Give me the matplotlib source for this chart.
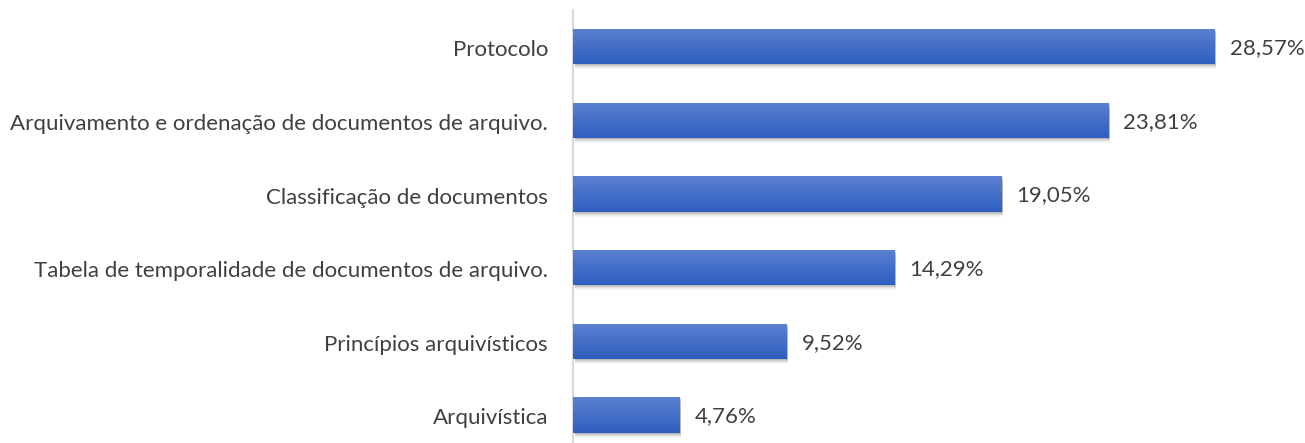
import matplotlib
matplotlib.use("Agg")
import matplotlib.pyplot as plt
import numpy as np
from matplotlib.colors import LinearSegmentedColormap
from matplotlib.patches import Rectangle
from matplotlib.transforms import ScaledTranslation

categories = ["Protocolo",
              "Arquivamento e ordenação de documentos de arquivo.",
              "Classificação de documentos",
              "Tabela de temporalidade de documentos de arquivo.",
              "Princípios arquivísticos",
              "Arquivística"]
values = [28.57, 23.81, 19.05, 14.29, 9.52, 4.76]
labels = ["28,57%", "23,81%", "19,05%", "14,29%", "9,52%", "4,76%"]

plt.rcParams['font.family'] = ['Lato', 'DejaVu Sans']
W, H = 1305, 443
fig = plt.figure(figsize=(W/100, H/100), dpi=100)
left, right, top, bottom = 573, 1305, 10, 443
ax = fig.add_axes([left/W, 1-bottom/H, (right-left)/W, (bottom-top)/H])

spacing = 73.6
ytop = -0.5
ybot = 5 + (443-415)/spacing
px = 22.47

y = np.arange(len(categories))
h = 0.48
cmap = LinearSegmentedColormap.from_list("g", ["#5b80d0", "#2e5fbf"])
grad = np.linspace(0, 1, 64).reshape(-1, 1)

for yi, v, lab in zip(y, values, labels):
    for k, a in [(1, 0.10), (2, 0.08), (3, 0.06), (4, 0.04), (5, 0.03)]:
        tr = ax.transData + ScaledTranslation(1.5/100, -k/100, fig.dpi_scale_trans)
        r = Rectangle((0, yi - h/2), v, h, facecolor="#000000", alpha=a,
                      edgecolor="none", transform=tr, zorder=1)
        ax.add_patch(r)
    bars = ax.barh(yi, v, height=h, color="none", edgecolor="none", zorder=2)
    im = ax.imshow(grad, cmap=cmap, aspect="auto",
                   extent=(0, v, yi + h/2, yi - h/2), zorder=3)
    im.set_clip_path(bars[0])
    ax.text(v + 15/px, yi + 0.02, lab, va="center", ha="left",
            fontsize=16, color="#404040")

ax.set_ylim(ybot, ytop)
ax.set_xlim(0, (right-left)/px)
ax.set_yticks(y + 0.02)
ax.set_yticklabels(categories, fontsize=16, color="#404040")
ax.tick_params(axis="y", length=0, pad=18)
ax.set_xticks([])
for s in ["top", "right", "bottom"]:
    ax.spines[s].set_visible(False)
ax.spines["left"].set_color("#d9d9d9")
ax.spines["left"].set_linewidth(1.5)

fig.savefig("out.png", dpi=100)
